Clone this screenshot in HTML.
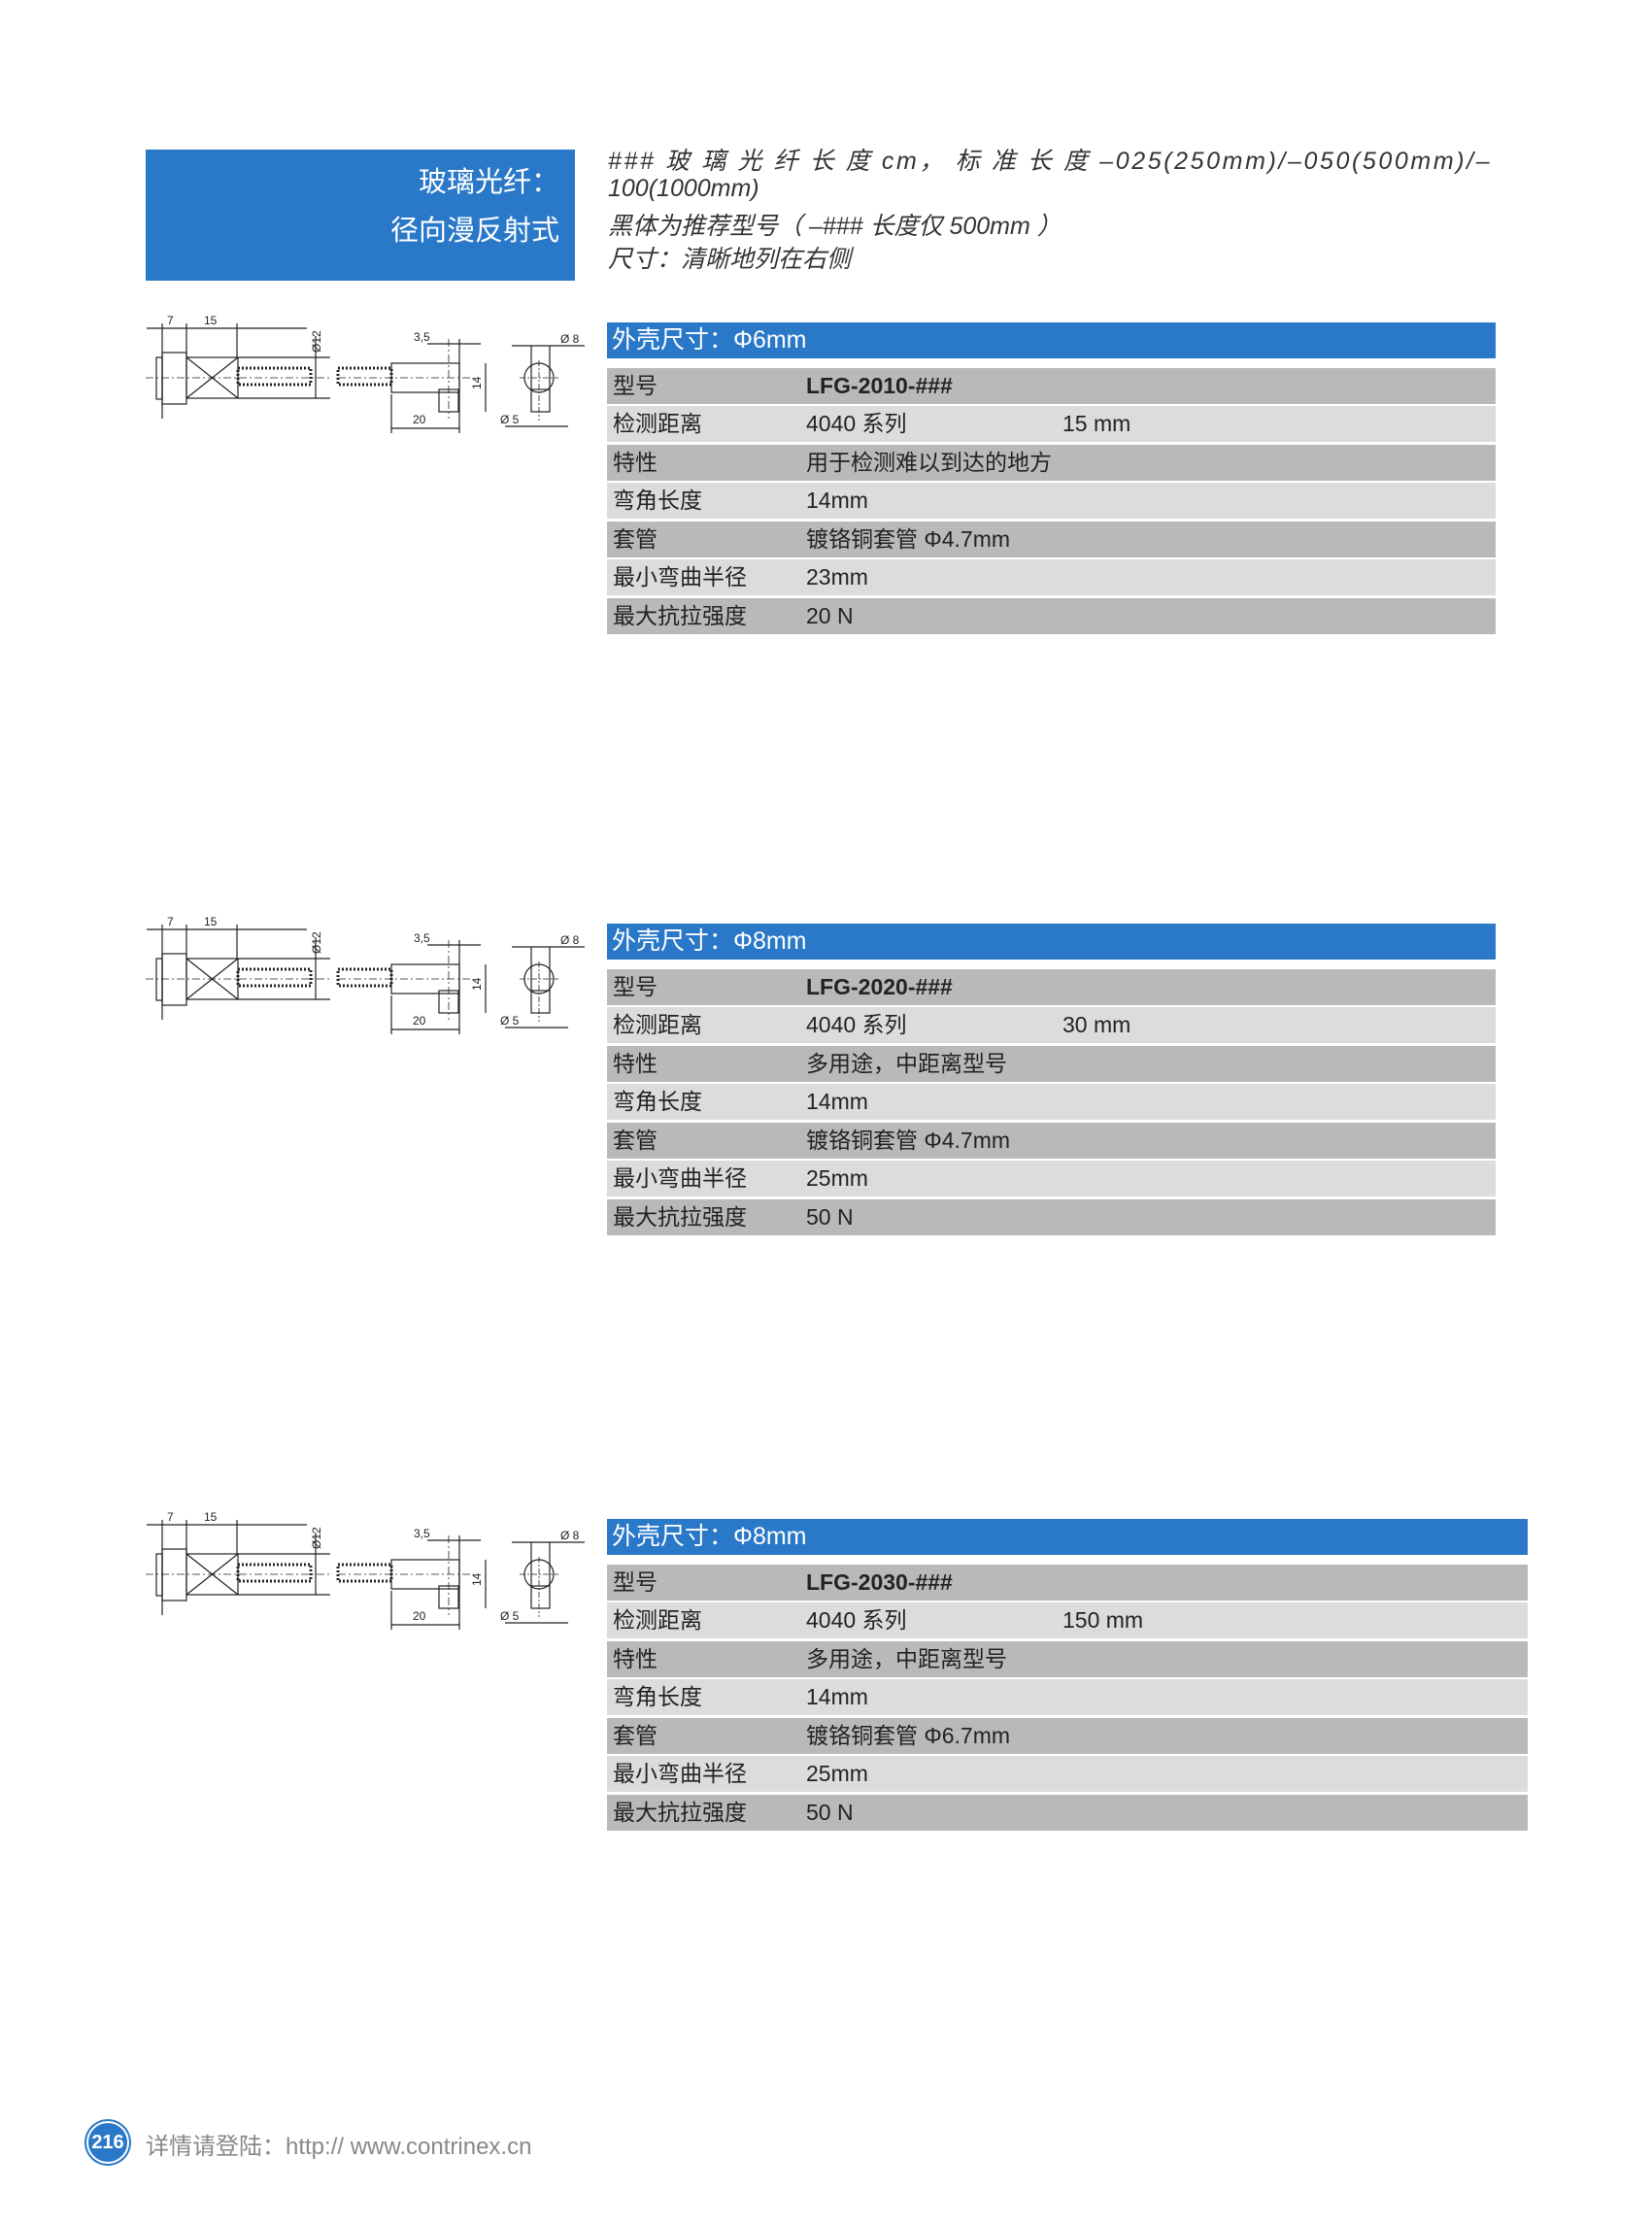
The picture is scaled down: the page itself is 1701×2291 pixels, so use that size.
<!DOCTYPE html>
<html><head><meta charset="utf-8"><style>
body{margin:0;width:1701px;height:2291px;background:#fff;position:relative;font-family:"Liberation Sans","Noto Sans CJK SC",sans-serif;overflow:hidden}
.hb{position:absolute;left:150px;top:154px;width:442px;height:135px;background:#2a78c8}
.hb div{position:absolute;right:16px;color:#fff;font-size:29px;white-space:nowrap}
.it{position:absolute;left:626px;font-style:italic;font-size:25px;color:#333;white-space:nowrap}
.tb{position:absolute;left:625px}
.th{height:37px;background:#2a78c8;color:#fff;font-size:25px;line-height:37px;padding-left:5px}
.r{position:absolute;left:0;height:37px;line-height:37px;font-size:23px;color:#222;width:100%}
.d{background:#b9b9b9}.l{background:#dcdcdc}
.r span{position:absolute;top:0}
.c1{left:6px}.c2{left:205px}.c3{left:469px}
.dr{position:absolute;left:140px}
</style></head><body>
<div class="hb"><div style="top:10px">玻璃光纤：</div><div style="top:60px">径向漫反射式</div></div>
<div class="it" style="top:146px;letter-spacing:2.6px">### 玻 璃 光 纤 长 度 cm， 标 准 长 度 –025(250mm)/–050(500mm)/–</div>
<div class="it" style="top:180px">100(1000mm)</div>
<div class="it" style="top:213px">黑体为推荐型号（ –### 长度仅 500mm ）</div>
<div class="it" style="top:247px">尺寸：清晰地列在右侧</div>

<svg width="0" height="0" style="position:absolute"><defs>
<g id="dw" fill="none" stroke="#222" stroke-width="1.2">
<line x1="11" y1="17" x2="176" y2="17"/>
<line x1="27" y1="12" x2="27" y2="110"/><line x1="52" y1="12" x2="52" y2="47"/><line x1="104" y1="12" x2="104" y2="47"/>
<rect x="21" y="47" width="6" height="43"/>
<rect x="27" y="42" width="25" height="53"/>
<rect x="52" y="47" width="53" height="42"/>
<line x1="52" y1="47" x2="105" y2="89"/><line x1="105" y1="47" x2="52" y2="89"/>
<line x1="105" y1="47" x2="200" y2="47"/><line x1="105" y1="89" x2="200" y2="89"/>
<rect x="105" y="58" width="75" height="17" stroke-dasharray="2 2" stroke-width="3"/>
<line x1="185" y1="25" x2="185" y2="89"/>
<line x1="10" y1="68" x2="200" y2="68" stroke-dasharray="8 3 2 3" stroke-width="0.8"/>
<rect x="208" y="58" width="55" height="17" stroke-dasharray="2 2" stroke-width="3"/>
<rect x="263" y="53" width="70" height="30"/>
<rect x="312" y="80" width="20" height="23"/>
<line x1="208" y1="68" x2="345" y2="68" stroke-dasharray="8 3 2 3" stroke-width="0.8"/>
<line x1="322" y1="28" x2="322" y2="110" stroke-dasharray="8 3 2 3" stroke-width="0.8"/>
<line x1="333" y1="28" x2="333" y2="125"/>
<line x1="360" y1="53" x2="360" y2="103"/>
<line x1="263" y1="85" x2="263" y2="125"/><line x1="263" y1="120" x2="333" y2="120"/>
<line x1="300" y1="33" x2="355" y2="33"/>
<circle cx="415" cy="68" r="15"/>
<rect x="407" y="80" width="19" height="23"/>
<line x1="407" y1="35" x2="407" y2="80"/><line x1="426" y1="35" x2="426" y2="80"/>
<line x1="387" y1="35" x2="462" y2="35"/><line x1="380" y1="118" x2="445" y2="118"/>
<line x1="395" y1="68" x2="435" y2="68" stroke-dasharray="6 2 2 2" stroke-width="0.8"/>
<line x1="415" y1="50" x2="415" y2="112" stroke-dasharray="6 2 2 2" stroke-width="0.8"/>
<g fill="#222" stroke="none" font-size="12" font-family="Liberation Sans,sans-serif">
<text x="32" y="13">7</text><text x="70" y="13">15</text>
<text x="286" y="30">3,5</text><text x="285" y="115">20</text><text x="437" y="32">Ø 8</text><text x="375" y="115">Ø 5</text>
<text transform="translate(190,42) rotate(-90)">Ø12</text><text transform="translate(355,80) rotate(-90)">14</text>
</g></g></defs></svg>

<svg class="dr" style="top:321px" width="480" height="140"><use href="#dw"/></svg>
<svg class="dr" style="top:940px" width="480" height="140"><use href="#dw"/></svg>
<svg class="dr" style="top:1553px" width="480" height="140"><use href="#dw"/></svg>

<div class="tb" style="top:332px;width:915px">
<div class="th">外壳尺寸：Φ6mm</div>
<div class="r d" style="top:47px"><span class="c1">型号</span><span class="c2" style="font-weight:bold">LFG-2010-###</span></div>
<div class="r l" style="top:86px"><span class="c1">检测距离</span><span class="c2">4040 系列</span><span class="c3">15 mm</span></div>
<div class="r d" style="top:126px"><span class="c1">特性</span><span class="c2">用于检测难以到达的地方</span></div>
<div class="r l" style="top:165px"><span class="c1">弯角长度</span><span class="c2">14mm</span></div>
<div class="r d" style="top:205px"><span class="c1">套管</span><span class="c2">镀铬铜套管 Φ4.7mm</span></div>
<div class="r l" style="top:244px"><span class="c1">最小弯曲半径</span><span class="c2">23mm</span></div>
<div class="r d" style="top:284px"><span class="c1">最大抗拉强度</span><span class="c2">20 N</span></div>
</div>

<div class="tb" style="top:951px;width:915px">
<div class="th">外壳尺寸：Φ8mm</div>
<div class="r d" style="top:47px"><span class="c1">型号</span><span class="c2" style="font-weight:bold">LFG-2020-###</span></div>
<div class="r l" style="top:86px"><span class="c1">检测距离</span><span class="c2">4040 系列</span><span class="c3">30 mm</span></div>
<div class="r d" style="top:126px"><span class="c1">特性</span><span class="c2">多用途，中距离型号</span></div>
<div class="r l" style="top:165px"><span class="c1">弯角长度</span><span class="c2">14mm</span></div>
<div class="r d" style="top:205px"><span class="c1">套管</span><span class="c2">镀铬铜套管 Φ4.7mm</span></div>
<div class="r l" style="top:244px"><span class="c1">最小弯曲半径</span><span class="c2">25mm</span></div>
<div class="r d" style="top:284px"><span class="c1">最大抗拉强度</span><span class="c2">50 N</span></div>
</div>

<div class="tb" style="top:1564px;width:948px">
<div class="th">外壳尺寸：Φ8mm</div>
<div class="r d" style="top:47px"><span class="c1">型号</span><span class="c2" style="font-weight:bold">LFG-2030-###</span></div>
<div class="r l" style="top:86px"><span class="c1">检测距离</span><span class="c2">4040 系列</span><span class="c3">150 mm</span></div>
<div class="r d" style="top:126px"><span class="c1">特性</span><span class="c2">多用途，中距离型号</span></div>
<div class="r l" style="top:165px"><span class="c1">弯角长度</span><span class="c2">14mm</span></div>
<div class="r d" style="top:205px"><span class="c1">套管</span><span class="c2">镀铬铜套管 Φ6.7mm</span></div>
<div class="r l" style="top:244px"><span class="c1">最小弯曲半径</span><span class="c2">25mm</span></div>
<div class="r d" style="top:284px"><span class="c1">最大抗拉强度</span><span class="c2">50 N</span></div>
</div>

<div style="position:absolute;left:89px;top:2184px;width:40px;height:40px;border-radius:50%;background:#2a78c8;border:2px solid #fff;box-shadow:0 0 0 2px #2a78c8;color:#fff;font-weight:bold;font-size:20px;line-height:40px;text-align:center">216</div>
<div style="position:absolute;left:150px;top:2190px;font-size:24px;color:#888;white-space:nowrap">详情请登陆：http:// www.contrinex.cn</div>
</body></html>
